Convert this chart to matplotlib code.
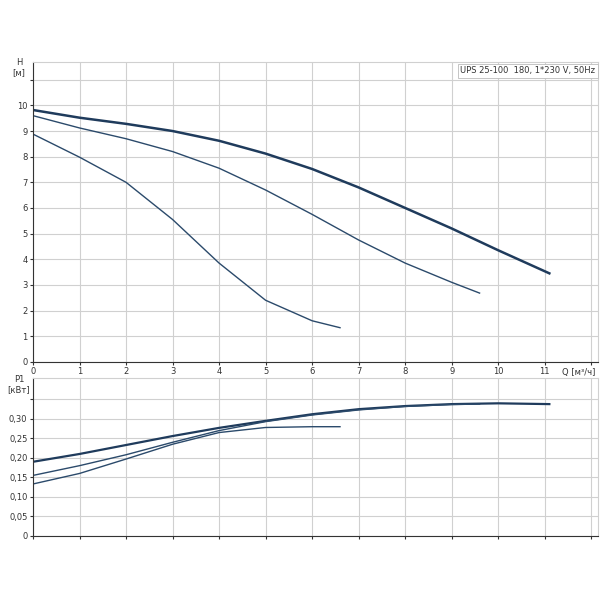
import matplotlib.pyplot as plt
import numpy as np

# Q-H curves (three speeds)
q_hi = [0, 1, 2, 3, 4, 5, 6, 7, 8, 9, 10, 11.1]
h_hi = [9.82, 9.52, 9.28, 9.0, 8.62, 8.12, 7.52, 6.8, 6.0, 5.2, 4.35, 3.45]
q_mid = [0, 1, 2, 3, 4, 5, 6, 7, 8, 9, 9.6]
h_mid = [9.6, 9.12, 8.7, 8.2, 7.55, 6.7, 5.75, 4.75, 3.85, 3.1, 2.68]
q_lo = [0, 1, 2, 3, 4, 5, 6, 6.6]
h_lo = [8.88, 7.98, 7.0, 5.55, 3.85, 2.4, 1.6, 1.33]

# Q-P1 curves
p_hi = [0.19, 0.21, 0.233, 0.256, 0.277, 0.295, 0.312, 0.325, 0.333, 0.338, 0.340, 0.338]
p_mid = [0.155, 0.18, 0.208, 0.24, 0.27, 0.293, 0.31, 0.323, 0.332, 0.337, 0.338]
p_lo = [0.133, 0.16, 0.197, 0.235, 0.265, 0.278, 0.28, 0.28]

line_col = '#2b4a6b'
grid_col = '#d0d0d0'

fig = plt.figure(figsize=(6, 6), dpi=100)
ax1 = fig.add_axes([0.055, 0.397, 0.942, 0.5])
ax2 = fig.add_axes([0.055, 0.107, 0.942, 0.263])

for ax in (ax1, ax2):
    ax.set_xlim(0, 12.15)
    ax.set_xticks(range(0, 13))
    for s in ('top', 'right'):
        ax.spines[s].set_color(grid_col)
    ax.spines['left'].set_color('#333333')
    ax.spines['bottom'].set_color('#333333')
    ax.grid(True, color=grid_col, linewidth=0.8)
    ax.set_axisbelow(True)
    ax.tick_params(labelsize=6, length=2, colors='#333333', pad=2)

ax1.plot(q_hi, h_hi, color='#1f3b5c', lw=1.8)
ax1.plot(q_mid, h_mid, color=line_col, lw=1.0)
ax1.plot(q_lo, h_lo, color=line_col, lw=1.0)
ax1.set_ylim(0, 11.7)
ax1.set_yticks(range(0, 12))
ax1.set_yticklabels([str(i) for i in range(0, 11)] + [''])
ax1.set_xticklabels([str(i) for i in range(0, 12)] + [''])
ax1.text(-0.025, 0.98, 'H\n[м]', transform=ax1.transAxes, fontsize=6,
         ha='center', va='center', color='#333333')
ax1.text(0.995, -0.02, 'Q [м³/ч]', transform=ax1.transAxes, fontsize=6,
         ha='right', va='top', color='#333333')
ax1.text(0.995, 0.985, 'UPS 25-100  180, 1*230 V, 50Hz', transform=ax1.transAxes,
         fontsize=6, ha='right', va='top', color='#333333',
         bbox=dict(boxstyle='square,pad=0.3', fc='white', ec='#bbbbbb', lw=0.6))

ax2.plot(q_hi, p_hi, color='#1f3b5c', lw=1.6)
ax2.plot(q_mid, p_mid, color=line_col, lw=1.0)
ax2.plot(q_lo, p_lo, color=line_col, lw=1.0)
ax2.set_ylim(0, 0.405)
yt = [0, 0.05, 0.10, 0.15, 0.20, 0.25, 0.30, 0.35]
ax2.set_yticks(yt)
ax2.set_yticklabels(['0', '0,05', '0,10', '0,15', '0,20', '0,25', '0,30', ''])
ax2.set_xticklabels([])
ax2.text(-0.025, 0.96, 'P1\n[кВт]', transform=ax2.transAxes, fontsize=6,
         ha='center', va='center', color='#333333')

fig.savefig('out.png', dpi=100)
